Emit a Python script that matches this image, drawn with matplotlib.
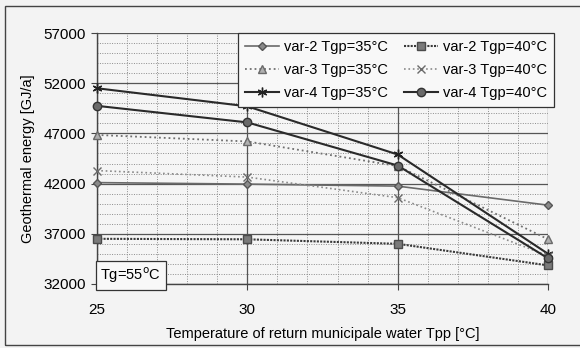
import numpy as np
import matplotlib
matplotlib.use("Agg")
import matplotlib.pyplot as plt
import matplotlib.ticker as ticker

plt.rcParams.update({
    "font.family": ["Liberation Sans", "DejaVu Sans"],
    "font.size": 10,
    "axes.linewidth": 1.0,
})

# data
tpp = [25, 30, 35, 40]
var2_35 = [42100, 41950, 41750, 39850]
var2_40 = [36500, 36450, 36000, 33850]
var3_35 = [46850, 46200, 43750, 36450]
var3_40 = [43300, 42650, 40600, 34800]
var4_35 = [51500, 49700, 44900, 35000]
var4_40 = [49750, 48100, 43800, 34550]

y_ticks = [32000, 37000, 42000, 47000, 52000, 57000]

labels = ["var-2 Tgp=35°C", "var-3 Tgp=35°C", "var-4 Tgp=35°C",
          "var-2 Tgp=40°C", "var-3 Tgp=40°C", "var-4 Tgp=40°C"]
series = [var2_35, var3_35, var4_35, var2_40, var3_40, var4_40]

# style per series: linestyle, color, linewidth, marker, marker size, face, edge
styles = [
    ("-", "#6a6a6a", 1.2, "D", 4.5, "#8a8a8a", "#555555"),
    (":", "#6f6f6f", 1.3, "^", 5.5, "#b0b0b0", "#6a6a6a"),
    ("-", "#2a2a2a", 1.5, (6, 2, 0), 7, "#222222", "#222222"),
    ((0, (1, 0.6)), "#3a3a3a", 1.5, "s", 5.5, "#7a7a7a", "#4a4a4a"),
    (":", "#8a8a8a", 1.2, "x", 5.5, "#8a8a8a", "#6a6a6a"),
    ("-", "#2a2a2a", 1.5, "o", 6, "#6a6a6a", "#333333"),
]

fig = plt.figure(figsize=(5.8, 3.48), dpi=100, facecolor="#f3f3f3")
ax = fig.add_axes([0.167, 0.184, 0.778, 0.721])
ax.set_facecolor("#f5f5f5")

handles = []
for y, lab, (ls, c, lw, mk, ms, fc, ec) in zip(series, labels, styles):
    h, = ax.plot(tpp, y, linestyle=ls, color=c, linewidth=lw, marker=mk,
                 markersize=ms, markerfacecolor=fc, markeredgecolor=ec,
                 markeredgewidth=1.0, label=lab, zorder=3, clip_on=False)
    handles.append(h)

ax.set_xlim(25, 40)
ax.set_ylim(32000, 57000)
ax.xaxis.set_major_locator(ticker.MultipleLocator(5))
ax.xaxis.set_minor_locator(ticker.MultipleLocator(1))
ax.yaxis.set_major_locator(ticker.FixedLocator(y_ticks))
ax.yaxis.set_minor_locator(ticker.MultipleLocator(1000))

ax.grid(which="major", color="#555555", linewidth=0.9, linestyle="-")
ax.grid(which="minor", color="#8c8c8c", linewidth=0.7, linestyle=(0, (1, 1.5)))
ax.set_axisbelow(True)

for s in ["top", "right"]:
    ax.spines[s].set_visible(False)
ax.spines["left"].set_color("#444444")
ax.spines["bottom"].set_color("#444444")

ax.tick_params(which="major", direction="out", length=4, color="#444444",
               labelsize=11, pad=4)
ax.tick_params(axis="x", which="major", pad=10)
ax.tick_params(which="minor", length=0)

ax.set_xlabel("Temperature of return municipale water Tpp [°C]", fontsize=10.5,
              labelpad=7)
ax.set_ylabel("Geothermal energy [GJ/a]", fontsize=10.5, labelpad=6)

leg = ax.legend(handles=handles, ncol=2, loc="upper right",
                bbox_to_anchor=(1.013, 1.0), borderaxespad=0, fontsize=10.5,
                frameon=True, fancybox=False, edgecolor="#333333",
                facecolor="#f8f8f8", framealpha=1, borderpad=0.5,
                handlelength=2.3, columnspacing=1.1, labelspacing=0.6,
                handletextpad=0.35)
leg.get_frame().set_linewidth(0.9)

ax.text(0.008, -0.005, "Tg=55$^\\mathrm{o}$C", transform=ax.transAxes,
        fontsize=10.5, va="bottom", ha="left",
        bbox=dict(boxstyle="square,pad=0.3", facecolor="#f8f8f8",
                  edgecolor="#333333", linewidth=0.9), zorder=5)

# outer chart border
fig.patches.append(plt.Rectangle((0.009, 0.008), 1.1, 0.975,
                                 transform=fig.transFigure, fill=False,
                                 edgecolor="#444444", linewidth=1.0))

plt.savefig("out.png", dpi=100, facecolor=fig.get_facecolor())
